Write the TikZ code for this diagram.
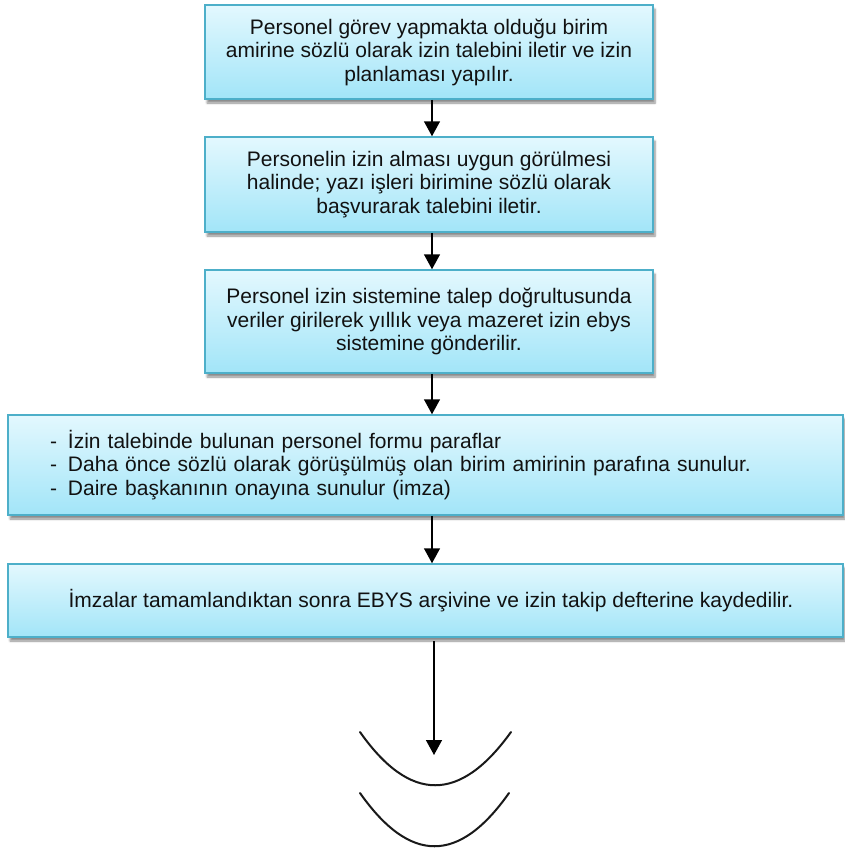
\documentclass[tikz,border=0pt]{standalone}
\usepackage{fontspec}
\setmainfont{Liberation Sans}
\usetikzlibrary{arrows.meta,shadows.blur}
\definecolor{boxtop}{HTML}{E3F8FE}
\definecolor{boxbot}{HTML}{A2E5F8}
\definecolor{boxline}{HTML}{4DAFC9}
\definecolor{txt}{HTML}{111111}
\begin{document}
\begin{tikzpicture}[x=1pt,y=-1pt,
  flowbox/.style={draw=boxline, line width=1.5pt, rectangle, top color=boxtop, bottom color=boxbot,
    blur shadow={shadow xshift=2pt, shadow yshift=-4pt, shadow blur steps=6, shadow opacity=45},
    font=\fontsize{21}{23.5}\selectfont, text=txt, align=center, inner sep=0pt},
  arr/.style={line width=1.5pt, -{Triangle[width=16pt,length=15pt]}},
  arcline/.style={line width=2pt, line cap=round, black!90}]
\useasboundingbox (0,0) rectangle (845,852);
\coordinate (ax) at (432,0);
\node[flowbox, minimum width=448pt, minimum height=94pt] (b1) at (429,52)
  {Personel görev yapmakta olduğu birim\\amirine sözlü olarak izin talebini iletir ve izin\\planlaması yapılır.};
\node[flowbox, minimum width=448pt, minimum height=95pt] (b2) at (429,184.5)
  {Personelin izin alması uygun görülmesi\\halinde; yazı işleri birimine sözlü olarak\\başvurarak talebini iletir.};
\node[flowbox, minimum width=448pt, minimum height=103pt] (b3) at (429,321.5)
  {Personel izin sistemine talep doğrultusunda\\veriler girilerek yıllık veya mazeret izin ebys\\sistemine gönderilir.};
\node[flowbox, minimum width=835pt, minimum height=100pt, align=left, text width=751pt, inner xsep=42pt] (b4) at (425.5,465)
  {\makebox[18pt][l]{-}İzin talebinde bulunan personel formu paraflar\\
   \makebox[18pt][l]{-}Daha önce sözlü olarak görüşülmüş olan birim amirinin parafına sunulur.\\
   \makebox[18pt][l]{-}Daire başkanının onayına sunulur (imza)};
\node[flowbox, minimum width=835pt, minimum height=73pt] (b5) at (425.5,600.5)
  {\hspace*{11pt}İmzalar tamamlandıktan sonra EBYS arşivine ve izin takip defterine kaydedilir.};
\coordinate (end) at (434,755);
\draw[arr] (b1.south -| ax) -- (b2.north -| ax);
\draw[arr] (b2.south -| ax) -- (b3.north -| ax);
\draw[arr] (b3.south -| ax) -- (b4.north -| ax);
\draw[arr] (b4.south -| ax) -- (b5.north -| ax);
\draw[arr] (434,641) -- (end);
\draw[arcline] (360,732) .. controls (410,803) and (460,803) .. (511,732);
\draw[arcline] (360,793) .. controls (410,864) and (459,864) .. (509,793);
\end{tikzpicture}
\end{document}
